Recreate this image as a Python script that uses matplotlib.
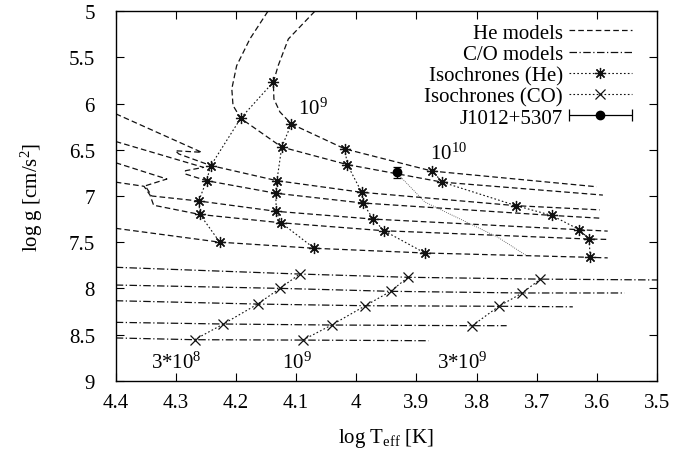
import numpy as np
import matplotlib
matplotlib.use("Agg")
import matplotlib.pyplot as plt
from matplotlib.container import ErrorbarContainer
from matplotlib.legend_handler import HandlerErrorbar

plt.rcParams['font.family'] = ['Liberation Serif', 'DejaVu Serif']
plt.rcParams['mathtext.fontset'] = 'custom'
plt.rcParams['mathtext.rm'] = 'Liberation Serif'
plt.rcParams['mathtext.it'] = 'Liberation Serif:italic'
plt.rcParams['font.size'] = 15

# He white dwarf cooling tracks (log Teff, log g)
he_tracks = [
    ([4.069, 4.113, 4.130, 4.138, 4.137, 4.127, 4.108, 4.019, 3.874, 3.600],
     [5.00, 5.30, 5.59, 5.77, 5.95, 6.09, 6.22, 6.49, 6.73, 6.90]),
    ([4.147, 4.177, 4.199, 4.207, 4.205, 4.192, 4.124, 4.015, 3.857, 3.590],
     [5.00, 5.30, 5.59, 5.84, 6.02, 6.16, 6.47, 6.66, 6.85, 6.99]),
    ([4.40, 4.257, 4.301, 4.295, 4.242, 4.132, 3.991, 3.734, 3.595],
     [6.11, 6.527, 6.51, 6.545, 6.67, 6.834, 6.96, 7.105, 7.15]),
    ([4.40, 4.254, 4.284, 4.285, 4.249, 4.134, 3.989, 3.675, 3.595],
     [6.41, 6.69, 6.726, 6.76, 6.834, 6.97, 7.076, 7.21, 7.24]),
    ([4.40, 4.315, 4.351, 4.340, 4.262, 4.133, 3.972, 3.629, 3.582],
     [6.64, 6.816, 6.89, 7.00, 7.054, 7.166, 7.25, 7.365, 7.38]),
    ([4.40, 4.353, 4.343, 4.337, 4.260, 4.125, 3.954, 3.613, 3.582],
     [6.85, 6.895, 6.99, 7.10, 7.20, 7.29, 7.376, 7.466, 7.47]),
    ([4.40, 4.227, 4.070, 3.886, 3.611, 3.582],
     [7.35, 7.50, 7.566, 7.617, 7.664, 7.67]),
]

# C/O white dwarf cooling tracks
co_tracks = [
    ([4.40, 4.094, 3.914, 3.694, 3.48], [7.772, 7.845, 7.88, 7.90, 7.91]),
    ([4.40, 4.127, 3.943, 3.724, 3.554], [7.964, 8.00, 8.032, 8.05, 8.05]),
    ([4.40, 4.164, 3.985, 3.763, 3.640], [8.134, 8.17, 8.188, 8.194, 8.20]),
    ([4.40, 4.221, 4.041, 3.807, 3.750], [8.368, 8.386, 8.397, 8.404, 8.404]),
    ([4.40, 4.269, 4.089, 3.880], [8.537, 8.556, 8.56, 8.567]),
]

# isochrones on He tracks
iso_he = [
    ([4.138, 4.192, 4.242, 4.249, 4.262, 4.260, 4.227],
     [5.766, 6.156, 6.672, 6.834, 7.054, 7.20, 7.50]),
    ([4.108, 4.124, 4.132, 4.134, 4.133, 4.125, 4.070],
     [6.22, 6.47, 6.834, 6.97, 7.166, 7.29, 7.566]),
    ([4.019, 4.015, 3.991, 3.989, 3.972, 3.954, 3.886],
     [6.49, 6.66, 6.96, 7.076, 7.25, 7.376, 7.617]),
    ([3.874, 3.857, 3.734, 3.675, 3.629, 3.613, 3.611],
     [6.726, 6.85, 7.105, 7.21, 7.365, 7.466, 7.664]),
]

# isochrones on C/O tracks
iso_co = [
    ([4.269, 4.221, 4.164, 4.127, 4.094], [8.556, 8.386, 8.17, 8.00, 7.845]),
    ([4.089, 4.041, 3.985, 3.943, 3.914], [8.56, 8.397, 8.188, 8.032, 7.88]),
    ([3.807, 3.763, 3.724, 3.694], [8.404, 8.194, 8.05, 7.90]),
]

# J1012+5307
obs_t = [3.933]
obs_g = [6.743]
obs_gerr = [0.06]
path_t = [3.931, 3.886, 3.765, 3.717]
path_g = [6.762, 7.065, 7.445, 7.646]

iso_labels = [r'10$^{9}$', r'10$^{10}$', r'3*10$^{8}$', r'10$^{9}$', r'3*10$^{9}$']
iso_label_t = [4.097, 3.878, 4.341, 4.123, 3.866]
iso_label_g = [6.11, 6.60, 8.855, 8.855, 8.855]

xticks = [4.4, 4.3, 4.2, 4.1, 4.0, 3.9, 3.8, 3.7, 3.6, 3.5]
xticklabels = ['4.4', '4.3', '4.2', '4.1', '4', '3.9', '3.8', '3.7', '3.6', '3.5']
yticks = [5, 5.5, 6, 6.5, 7, 7.5, 8, 8.5, 9]
yticklabels = ['5', '5.5', '6', '6.5', '7', '7.5', '8', '8.5', '9']

fig = plt.figure(figsize=(6.91, 4.52), dpi=100)
ax = fig.add_axes([0.1675, 0.1555, 0.7833, 0.8173])

he_ls = (0, (4.5, 2.5))
co_ls = (0, (6, 2, 1, 2))
iso_ls = (0, (1.5, 2.0))
col = '#111111'
lw = 0.9

for i, (t, g) in enumerate(he_tracks):
    ax.plot(t, g, color=col, lw=lw, ls=he_ls, label='He models' if i == 0 else None)
for i, (t, g) in enumerate(co_tracks):
    ax.plot(t, g, color=col, lw=lw, ls=co_ls, label='C/O models' if i == 0 else None)
for i, (t, g) in enumerate(iso_he):
    ax.plot(t, g, color=col, lw=0.8, ls=iso_ls, marker=(8, 2, 0), ms=8, mew=0.9,
            label='Isochrones (He)' if i == 0 else None)
for i, (t, g) in enumerate(iso_co):
    ax.plot(t, g, color=col, lw=0.8, ls=iso_ls, marker='x', ms=7, mew=0.9,
            label='Isochrones (CO)' if i == 0 else None)

ax.plot(path_t, path_g, color='#444444', lw=0.6, ls=(0, (1, 1.5)))
ax.errorbar(obs_t, obs_g, yerr=obs_gerr, fmt='o', color='black', ms=6,
            capsize=3, elinewidth=0.9, capthick=0.9)
# legend proxy drawn like the horizontal error-bar key
ax.errorbar([np.nan], [np.nan], xerr=[1], fmt='o', color='black', ms=6,
            capsize=4, elinewidth=0.9, capthick=0.9, label='J1012+5307')

for lab, t, g in zip(iso_labels, iso_label_t, iso_label_g):
    ax.text(t, g, lab, ha='left', va='baseline')

ax.set_xlim(4.4, 3.5)
ax.set_ylim(9, 5)
ax.set_xticks(xticks, xticklabels)
ax.set_yticks(yticks, yticklabels)
ax.tick_params(direction='in', top=True, right=True, length=5.5, width=0.8)
ax.tick_params(axis='y', pad=15)
ax.tick_params(axis='x', pad=9)
for s in ax.spines.values():
    s.set_linewidth(1.0)

ax.set_xlabel(r'log T$_{\rm eff}$ [K]', labelpad=10)
ax.set_ylabel(r'log g [cm/s$^{2}$]', labelpad=17)

ax.legend(loc='upper right', bbox_to_anchor=(0.953, 0.968), frameon=False,
          markerfirst=False, handlelength=3.0, labelspacing=0.08,
          borderpad=0, borderaxespad=0, handletextpad=0.3,
          handler_map={ErrorbarContainer: HandlerErrorbar(xerr_size=1.5)})

fig.savefig('out.png', dpi=100)
